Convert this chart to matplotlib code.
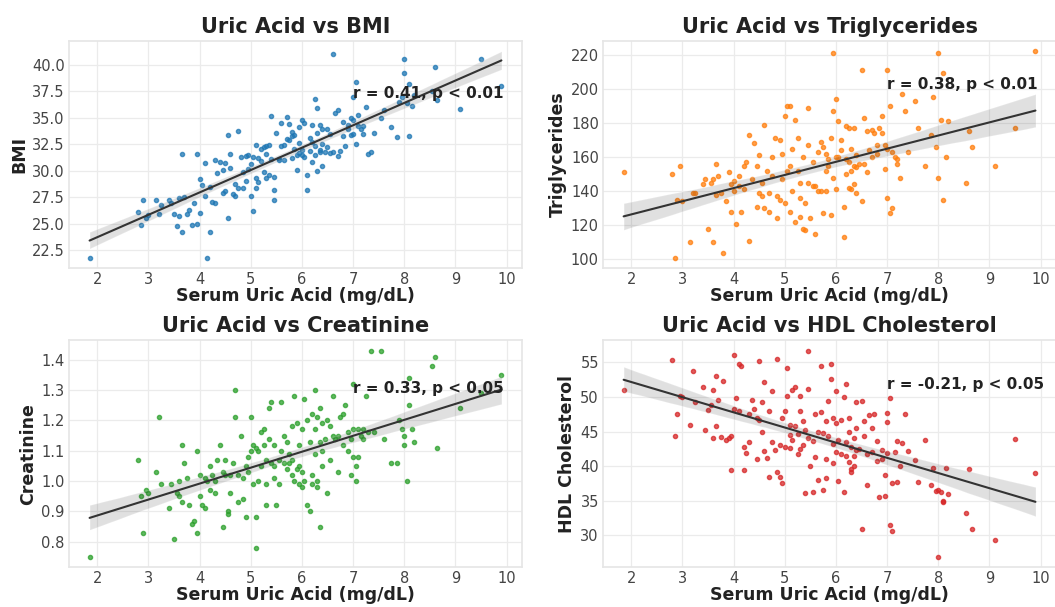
import matplotlib
matplotlib.use("Agg")
import matplotlib.pyplot as plt
import seaborn as sns
import numpy as np

# serum uric acid, same subjects in all four panels
uric_acid = [
    1.85, 2.8, 2.85, 2.9, 2.95, 3.0, 3.15, 3.2, 3.25, 3.4, 3.45,
    3.5, 3.55, 3.6, 3.6, 3.65, 3.65, 3.7, 3.75, 3.8, 3.85, 3.9, 3.95, 3.95,
    4.0, 4.0, 4.05, 4.1, 4.1, 4.15, 4.2, 4.2, 4.25, 4.3, 4.3, 4.35, 4.4, 4.45, 4.45,
    4.5, 4.5, 4.55, 4.55, 4.6, 4.6, 4.65, 4.7, 4.7, 4.75, 4.75, 4.8, 4.85, 4.85, 4.9, 4.9, 4.95, 4.95,
    5.0, 5.0, 5.05, 5.05, 5.1, 5.1, 5.1, 5.15, 5.15, 5.2, 5.2, 5.25, 5.25, 5.3, 5.3, 5.3,
    5.35, 5.35, 5.4, 5.4, 5.45, 5.45, 5.45, 5.5,
    5.55, 5.55, 5.6, 5.6, 5.65, 5.65, 5.7, 5.7, 5.75, 5.75, 5.8, 5.8, 5.8, 5.85, 5.85,
    5.9, 5.9, 5.95, 5.95, 5.95,
    6.0, 6.0, 6.0, 6.05, 6.05, 6.1, 6.1, 6.15, 6.15, 6.2, 6.2, 6.2, 6.25, 6.25, 6.25,
    6.3, 6.3, 6.3, 6.35, 6.35, 6.35, 6.4, 6.4, 6.4, 6.45,
    6.5, 6.5, 6.55, 6.55, 6.6, 6.6, 6.65, 6.7, 6.7, 6.75, 6.8, 6.8, 6.85, 6.9, 6.9, 6.95, 6.95,
    7.0, 7.0, 7.0, 7.05, 7.05, 7.1, 7.1, 7.15, 7.2, 7.2, 7.25, 7.3, 7.35, 7.4,
    7.55, 7.6, 7.75, 7.85, 7.9, 7.95, 8.0, 8.0,
    8.05, 8.1, 8.1, 8.15, 8.2, 8.55, 8.6, 8.65,
    9.1, 9.5, 9.9,
]

bmi = [
    21.8, 26.1, 24.9, 27.2, 25.5, 25.8, 27.2, 25.9, 26.8, 27.2, 27.0,
    25.9, 24.8, 25.7, 27.4, 24.2, 31.6, 27.5, 25.9, 26.3, 24.9, 27.0, 31.6, 25.0,
    29.2, 26.0, 28.7, 30.7, 27.6, 21.8, 24.2, 28.5, 27.1, 31.0, 27.0, 29.8, 30.8, 30.1, 27.9,
    28.1, 30.7, 33.4, 25.5, 31.6, 30.3, 27.8, 28.8, 27.6, 33.8, 28.4, 31.3, 29.9, 28.4, 31.4, 29.0, 30.2, 31.5,
    30.6, 27.6, 26.2, 31.3, 28.4, 29.3, 32.4, 31.2, 28.9, 32.1, 30.9, 32.2, 29.9, 32.3, 29.3, 31.6,
    29.6, 32.4, 35.2, 31.1, 27.2, 28.2, 29.4, 33.6,
    31.1, 31.0, 32.3, 34.5, 32.4, 31.0, 35.1, 33.0, 34.4, 32.9, 33.7, 33.3, 31.2, 33.4, 32.1,
    30.1, 31.5, 34.1, 32.6, 31.7,
    34.8, 32.0, 31.5, 34.5, 31.3, 29.6, 28.2, 33.1, 31.9, 34.3, 32.7, 30.8, 36.8, 32.3, 31.5,
    35.9, 33.6, 30.0, 34.3, 32.0, 31.8, 30.5, 32.5, 33.9, 31.8,
    32.2, 33.9, 31.7, 33.5, 41.0, 31.8, 35.5, 31.4, 35.7, 31.9, 33.3, 34.6, 32.3, 33.9, 34.3, 35.0, 33.4,
    37.0, 34.8, 33.5, 38.4, 32.5, 35.3, 34.2, 33.9, 34.2, 33.5, 36.0, 31.6, 31.8, 33.6,
    35.0, 35.7, 34.1, 33.2, 36.5, 37.0, 40.6, 39.2,
    36.4, 38.2, 33.3, 36.1, 37.2, 37.5, 39.8, 36.7,
    35.8, 40.6, 38.0,
]

triglycerides = [
    151, 150, 101, 135, 155, 134, 110, 139, 139, 144, 147,
    118, 145, 110, 147, 156, 138, 149, 139, 104, 134, 151, 144, 128,
    146, 140, 121, 149, 143, 128, 155, 141, 157, 111, 173, 147, 168, 131, 155,
    139, 161, 145, 137, 179, 130, 152, 139, 128, 160, 149, 171, 137, 124, 170, 135, 147, 162,
    184, 133, 190, 152, 190, 155, 128, 165, 140, 182, 122, 171, 152, 136, 125, 145,
    118, 160, 117, 133, 189, 167, 145, 124,
    143, 157, 115, 143, 140, 163, 169, 140, 166, 127, 152, 162, 140, 159, 155,
    126, 171, 221, 187, 148,
    194, 160, 141, 181, 160, 170, 164, 113, 131, 178, 159, 150, 177, 142, 157,
    152, 141, 165, 155, 144, 177, 154, 161, 139, 156,
    211, 134, 183, 156, 175, 151, 164, 176, 160, 174, 167, 162, 177, 184, 174, 153, 167,
    211, 136, 165, 127, 190, 130, 163, 160, 156, 159, 148, 197, 187, 163,
    193, 177, 155, 173, 195, 166, 221, 148,
    182, 135, 209, 160, 181, 145, 175, 166,
    155, 177, 222,
]

creatinine = [
    0.75, 1.07, 0.95, 0.83, 0.97, 0.96, 1.03, 1.21, 0.99, 0.91, 0.99,
    0.81, 0.96, 0.95, 1.00, 1.12, 0.93, 1.06, 1.01, 0.92, 0.86, 0.87, 1.10, 0.83,
    1.02, 0.95, 0.92, 1.01, 0.91, 1.00, 1.05, 0.97, 1.02, 0.96, 1.00, 1.07, 1.12, 0.85, 1.03,
    1.02, 1.07, 0.90, 0.89, 0.96, 1.02, 1.06, 1.30, 1.21, 1.02, 0.93, 1.15, 0.94, 1.01, 0.88, 1.05, 1.08, 1.03,
    1.21, 1.10, 1.12, 0.99, 0.78, 0.88, 1.11, 1.10, 1.00, 1.16, 1.05, 1.17, 1.12, 0.99, 1.07, 0.92,
    1.24, 1.14, 1.26, 1.06, 1.12, 1.01, 1.05, 0.92,
    0.99, 1.07, 1.26, 1.10, 1.06, 1.15, 1.13, 1.04, 1.09, 1.06, 1.18, 1.02, 1.07, 1.28, 1.00,
    1.19, 1.04, 1.05, 0.99, 1.12,
    1.17, 1.03, 0.98, 1.27, 1.00, 1.20, 0.92, 1.13, 0.90, 1.22, 1.02, 0.99, 1.30, 1.17, 1.09,
    1.21, 1.00, 0.98, 0.85, 1.24, 1.13, 1.10, 1.05, 1.19, 1.14,
    0.96, 1.20, 1.07, 1.18, 1.28, 1.15, 1.14, 1.03, 1.15, 1.21, 1.22, 1.12, 1.25, 1.10, 1.16, 1.02, 1.14,
    1.08, 1.17, 1.32, 1.00, 1.05, 1.08, 1.17, 1.15, 1.14, 1.17, 1.28, 1.16, 1.43, 1.16,
    1.43, 1.14, 1.06, 1.06, 1.20, 1.17, 1.15, 1.12,
    1.00, 1.34, 1.25, 1.17, 1.13, 1.38, 1.41, 1.11,
    1.24, 1.29, 1.35,
]

hdl = [
    51.0, 55.3, 44.3, 47.6, 50.2, 50.0, 46.0, 53.8, 49.3, 51.5, 45.2,
    48.1, 48.8, 51.0, 44.0, 53.0, 45.8, 49.5, 44.2, 52.3, 43.8, 44.0, 39.5, 44.4,
    56.0, 48.2, 49.8, 54.8, 47.9, 54.5, 42.8, 39.4, 41.9, 47.5, 43.5, 49.5, 48.3, 41.0, 47.0,
    55.2, 46.6, 49.3, 45.0, 52.2, 42.2, 41.2, 38.5, 48.0, 50.9, 43.5, 42.3, 55.5, 39.2, 43.0, 38.4, 37.6, 47.0,
    48.0, 42.8, 50.2, 54.2, 44.5, 42.6, 46.0, 51.0, 43.8, 51.5, 45.8, 41.8, 44.6, 47.9, 42.5, 50.2,
    46.5, 43.0, 36.2, 45.2, 56.7, 44.0, 51.1, 40.0,
    36.3, 43.6, 47.5, 41.3, 45.0, 38.0, 54.5, 47.8, 36.6, 44.8, 46.5, 41.0, 38.3, 49.4, 44.4,
    54.7, 52.6, 40.5, 43.2, 47.0,
    50.8, 46.2, 42.0, 37.8, 43.8, 46.6, 41.8, 36.3, 50.0, 51.8, 41.5, 43.5, 44.9, 40.6, 47.0,
    39.2, 42.8, 39.6, 44.1, 41.5, 40.0, 45.5, 42.4, 49.3, 42.5,
    31.0, 49.4, 46.5, 44.3, 37.3, 41.7, 47.4, 45.5, 42.0, 47.5, 43.7, 40.8, 35.5, 42.3, 41.0, 35.7, 38.7,
    47.7, 46.4, 41.9, 31.5, 49.9, 30.7, 37.6, 42.0, 37.7, 43.6, 40.0, 43.4, 47.5, 42.2,
    40.9, 37.7, 43.8, 37.3, 39.8, 36.4, 26.9, 36.5,
    36.3, 35.0, 34.8, 39.7, 36.0, 33.2, 39.6, 30.9,
    29.3, 43.9, 39.0,
]

titles = ["Uric Acid vs BMI", "Uric Acid vs Triglycerides",
          "Uric Acid vs Creatinine", "Uric Acid vs HDL Cholesterol"]
ylabels = ["BMI", "Triglycerides", "Creatinine", "HDL Cholesterol"]
stats_labels = ["r = 0.41, p < 0.01", "r = 0.38, p < 0.01",
                "r = 0.33, p < 0.05", "r = -0.21, p < 0.05"]
series = [bmi, triglycerides, creatinine, hdl]
xticks = [2, 3, 4, 5, 6, 7, 8, 9, 10]
yticks = [
    [22.5, 25.0, 27.5, 30.0, 32.5, 35.0, 37.5, 40.0],
    [100, 120, 140, 160, 180, 200, 220],
    [0.8, 0.9, 1.0, 1.1, 1.2, 1.3, 1.4],
    [30, 35, 40, 45, 50, 55],
]
yfmt = ["{:.1f}", "{:.0f}", "{:.1f}", "{:.0f}"]

colors = ["#1f77b4", "#ff7f0e", "#2ca02c", "#d62728"]
# where the r/p note sits (data coords)
note_x = 7.0
note_y = [37.3, 202.5, 1.305, 51.8]

sns.set_theme(style="whitegrid")
plt.rcParams["font.family"] = ["DejaVu Sans"]

fig = plt.figure(figsize=(10.55, 6.07), dpi=100)
# axes boxes in figure fractions: left, bottom, width, height
boxes = [
    [0.0654, 0.5585, 0.4294, 0.374],
    [0.5716, 0.5585, 0.4294, 0.374],
    [0.0654, 0.0655, 0.4294, 0.374],
    [0.5716, 0.0655, 0.4294, 0.374],
]

x = np.array(uric_acid)
for i in range(4):
    ax = fig.add_axes(boxes[i])
    y = np.array(series[i])
    sns.regplot(x=x, y=y, ax=ax, seed=0,
                scatter_kws={"s": 9, "alpha": 0.75, "color": colors[i]},
                line_kws={"color": "#333333", "lw": 1.5})
    ax.set_title(titles[i], fontsize=15, fontweight="bold", color="#222222", pad=6)
    ax.set_xlabel("Serum Uric Acid (mg/dL)", fontsize=12.5, fontweight="bold",
                  color="#222222", labelpad=0)
    ax.set_ylabel(ylabels[i], fontsize=12.5, fontweight="bold", color="#222222", labelpad=3)
    ax.set_xticks(xticks)
    ax.set_yticks(yticks[i])
    ax.set_yticklabels([yfmt[i].format(v) for v in yticks[i]])
    ax.tick_params(axis="both", labelsize=10.5, labelcolor="#444444", pad=3, length=0)
    ax.grid(True, color="#ebebeb", lw=0.9)
    for s in ax.spines.values():
        s.set_color("#e6e6e6")
    ax.text(note_x, note_y[i], stats_labels[i], fontsize=11, fontweight="bold",
            color="#222222", ha="left", va="center")

fig.savefig("out.png", dpi=100)
